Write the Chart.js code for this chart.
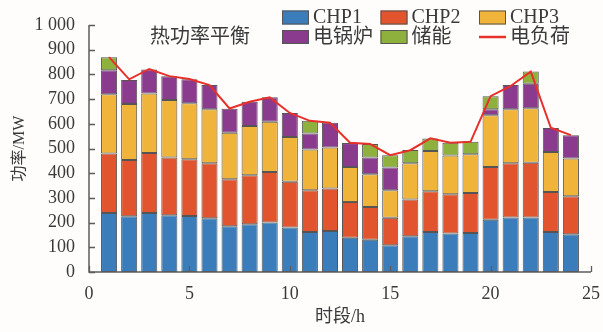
<!DOCTYPE html>
<html>
<head>
<meta charset="utf-8">
<script src="https://cdn.jsdelivr.net/npm/chart.js@4.4.1/dist/chart.umd.min.js"></script>
<style>
  html, body { margin: 0; padding: 0; background: #fefdfc; }
  #wrap { width: 603px; height: 332px; }
</style>
</head>
<body>
<div id="wrap"><canvas id="c" width="603" height="332"></canvas></div>
<script>
// Hourly heat-power balance (MW)
const hours   = [1, 2, 3, 4, 5, 6, 7, 8, 9, 10, 11, 12, 13, 14, 15, 16, 17, 18, 19, 20, 21, 22, 23, 24];
const chp1    = [239, 226, 239, 230, 227, 218, 185, 193, 200, 180, 162, 166, 139, 131, 108, 145, 162, 156, 158, 212, 221, 221, 162, 153];
const chp2    = [241, 227, 243, 234, 229, 222, 191, 199, 205, 185, 169, 172, 144, 132, 112, 149, 165, 159, 162, 213, 219, 221, 162, 154];
const chp3    = [240, 227, 241, 232, 227, 219, 188, 199, 203, 182, 165, 166, 142, 133, 111, 146, 163, 157, 157, 210, 219, 221, 162, 153];
const boiler  = [97, 97, 97, 97, 97, 98, 97, 98, 99, 97, 65, 100, 97, 68, 92, null, null, null, null, 24, 98, 99, 97, 94];
const storage = [52, null, null, null, null, null, null, null, null, null, 51, null, null, 54, 50, 54, 50, 51, 50, 53, null, 50, null, null];
const load    = [870, 780, 822, 793, 781, 757, 662, 689, 707, 644, 612, 604, 523, 518, 473, 493, 541, 523, 527, 712, 753, 811, 584, 554];

const seriesNames = ['CHP1', 'CHP2', 'CHP3', '电锅炉', '储能', '电负荷'];
const xTicks = [0, 5, 10, 15, 20, 25];
const yTicks = [0, 100, 200, 300, 400, 500, 600, 700, 800, 900, 1000];
const yTickLabels = ['0', '100', '200', '300', '400', '500', '600', '700', '800', '900', '1 000'];
const chartTitle = '热功率平衡';
const xTitle = '时段/h';
const yTitle = '功率/MW';

const FONT = '"Liberation Serif", "Noto Sans CJK SC", serif';
const TEXT = '#3a3a3a';
const AXIS = '#5c5c5c';
const EDGE = '#555555';

const pts = arr => hours.map((h, i) => ({ x: h, y: arr[i] }));

function barSet(label, data, color) {
  return {
    type: 'bar', label, data: pts(data), backgroundColor: color,
    borderColor: EDGE, borderWidth: 1, borderSkipped: false,
    stack: 'heat', categoryPercentage: 1, barPercentage: 0.8, order: 1
  };
}

// axis lines plus ticks pointing into the plot, on top of the bars
const axesInward = {
  id: 'axesInward',
  afterDatasetsDraw(chart) {
    const { ctx, chartArea: a, scales: { x, y } } = chart;
    ctx.save();
    ctx.strokeStyle = AXIS;
    ctx.lineWidth = 1.5;
    ctx.beginPath();
    ctx.moveTo(a.left, a.top); ctx.lineTo(a.left, a.bottom); ctx.lineTo(a.right, a.bottom);
    ctx.stroke();
    ctx.lineWidth = 1.3;
    ctx.beginPath();
    x.ticks.forEach(t => {
      const px = Math.round(x.getPixelForValue(t.value)) + 0.5;
      ctx.moveTo(px, a.bottom); ctx.lineTo(px, a.bottom - 6);
    });
    y.ticks.forEach(t => {
      const py = Math.round(y.getPixelForValue(t.value)) + 0.5;
      ctx.moveTo(a.left, py); ctx.lineTo(a.left + 6, py);
    });
    ctx.stroke();
    ctx.restore();
  }
};

// in-plot caption and two-row legend
const overlay = {
  id: 'overlay',
  afterDraw(chart) {
    const ctx = chart.ctx;
    ctx.save();
    ctx.fillStyle = TEXT;
    ctx.textBaseline = 'middle';
    ctx.textAlign = 'center';
    ctx.font = '20px ' + FONT;
    ctx.fillText(chartTitle, 200, 38);

    ctx.textAlign = 'left';
    chart.data.datasets.forEach((ds, i) => {
      const col = i % 3, row = Math.floor(i / 3);
      const bx = 282 + col * 98.5, by = 10.5 + row * 19.5;
      if (ds.type === 'line') {
        ctx.strokeStyle = ds.borderColor;
        ctx.lineWidth = 2.5;
        ctx.beginPath();
        ctx.moveTo(bx, by + 7); ctx.lineTo(bx + 27, by + 7);
        ctx.stroke();
      } else {
        ctx.fillStyle = ds.backgroundColor;
        ctx.fillRect(bx, by, 27, 14);
        ctx.strokeStyle = EDGE;
        ctx.lineWidth = 1;
        ctx.strokeRect(bx + 0.5, by + 0.5, 26, 13);
      }
      ctx.fillStyle = TEXT;
      ctx.font = '20px ' + FONT;
      ctx.fillText(ds.label, bx + 31, by + 7.5);
    });
    ctx.restore();
  }
};

new Chart(document.getElementById('c'), {
  data: {
    datasets: [
      barSet(seriesNames[0], chp1, '#3b7cba'),
      barSet(seriesNames[1], chp2, '#e2542d'),
      barSet(seriesNames[2], chp3, '#f1b43b'),
      barSet(seriesNames[3], boiler, '#8a3b8d'),
      barSet(seriesNames[4], storage, '#8db13c'),
      {
        type: 'line', label: seriesNames[5], data: pts(load), stack: 'load',
        borderColor: '#e8302a', borderWidth: 2, pointRadius: 0, tension: 0,
        fill: false, order: 0
      }
    ]
  },
  options: {
    responsive: false,
    animation: false,
    devicePixelRatio: 1,
    layout: { padding: { top: 25, right: 12, left: 0, bottom: 0 } },
    plugins: { legend: { display: false }, tooltip: { enabled: false } },
    scales: {
      x: {
        type: 'linear', min: 0, max: 25, stacked: true, offset: false,
        afterBuildTicks: s => { s.ticks = xTicks.map(v => ({ value: v })); },
        afterFit: s => { s.height = 60; },
        grid: { display: false, offset: false },
        border: { display: false },
        ticks: { color: TEXT, font: { family: FONT, size: 18 }, padding: 3, maxRotation: 0 },
        title: { display: true, text: xTitle, color: TEXT, font: { family: FONT, size: 18 }, padding: { top: 6 } }
      },
      y: {
        type: 'linear', min: 0, max: 1000, stacked: true,
        afterBuildTicks: s => { s.ticks = yTicks.map(v => ({ value: v })); },
        afterFit: s => { s.width = 89; },
        grid: { display: false },
        border: { display: false },
        ticks: {
          color: TEXT, font: { family: FONT, size: 18 }, padding: 6,
          callback: v => yTickLabels[yTicks.indexOf(v)]
        },
        title: { display: true, text: yTitle, color: TEXT, font: { family: FONT, size: 16 }, padding: { top: 10, bottom: 0 } }
      }
    }
  },
  plugins: [axesInward, overlay]
});
</script>
</body>
</html>
